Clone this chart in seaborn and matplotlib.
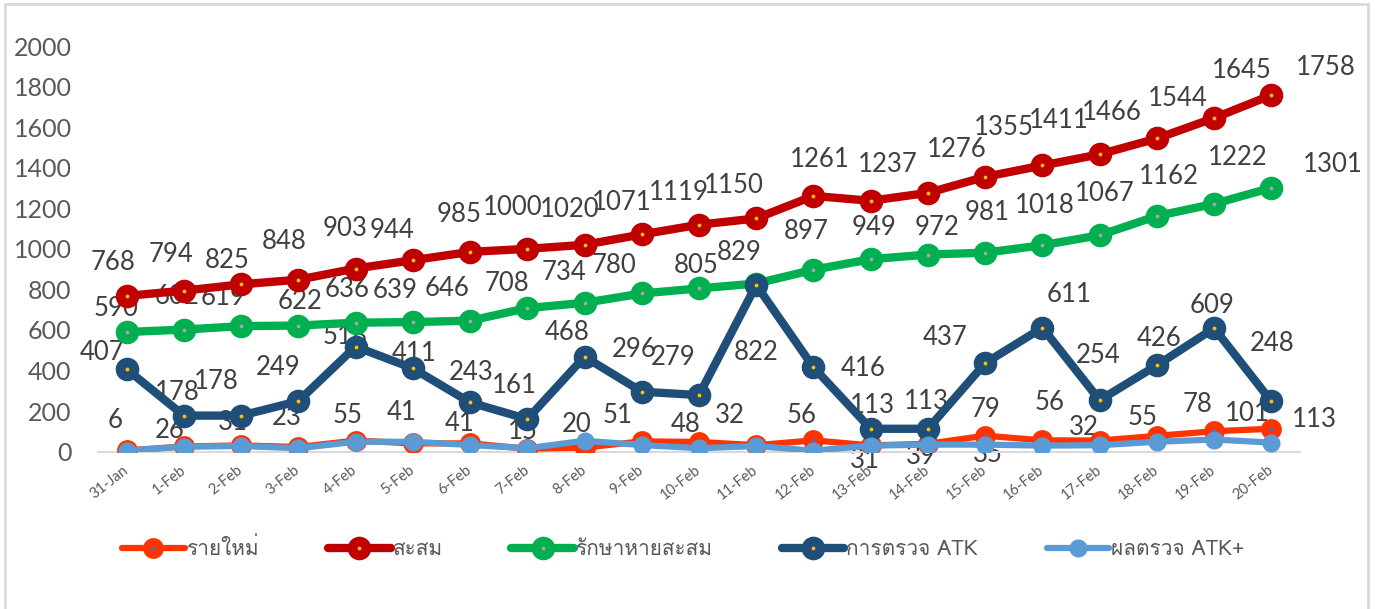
import pandas as pd
import matplotlib
matplotlib.use('Agg')
import matplotlib.pyplot as plt
import seaborn as sns
from matplotlib import font_manager as fm
from matplotlib.patches import Rectangle
from fontTools.ttLib import TTFont

# === 1. ข้อมูล ===
dates = ['31-Jan', '1-Feb', '2-Feb', '3-Feb', '4-Feb', '5-Feb', '6-Feb', '7-Feb',
         '8-Feb', '9-Feb', '10-Feb', '11-Feb', '12-Feb', '13-Feb', '14-Feb',
         '15-Feb', '16-Feb', '17-Feb', '18-Feb', '19-Feb', '20-Feb']
new_cases = [6, 26, 31, 23, 55, 41, 41, 15, 20, 51, 48, 32, 56, 31, 39, 79, 56, 55, 78, 101, 113]
cumulative = [768, 794, 825, 848, 903, 944, 985, 1000, 1020, 1071, 1119, 1150, 1261, 1237,
              1276, 1355, 1411, 1466, 1544, 1645, 1758]
recovered = [590, 602, 619, 622, 636, 639, 646, 708, 734, 780, 805, 829, 897, 949, 972,
             981, 1018, 1067, 1162, 1222, 1301]
atk_tests = [407, 178, 178, 249, 518, 411, 243, 161, 468, 296, 279, 822, 416, 113, 113,
             437, 611, 254, 426, 609, 248]
atk_positive = [5, 25, 28, 17, 49, 49, 33, 17, 54, 33, 17, 28, 5, 30, 35, 35, 30, 32, 49, 60, 45]

names = ['รายใหม่', 'สะสม', 'รักษาหายสะสม', 'การตรวจ ATK', 'ผลตรวจ ATK+']

df = pd.DataFrame({'date': dates, 'new': new_cases, 'cum': cumulative,
                   'rec': recovered, 'atk': atk_tests, 'atkp': atk_positive})

# === 2. ตำแหน่งป้ายข้อมูล (pixel offset จากจุด) ===
new_off = [(-11, 30), (-14, 16), (-8, 23), (-12, 30), (-8, 25), (-11, 31), (-10, 20), (-4, 17),
           (-8, 23), (-24, 26), (-13, 17), (-26, 30), (-12, 25), (-6, -15), (-7, -13), (0, 26),
           (7, 38), (43, 23), (41, 31), (33, 18), (43, 9)]
cum_off = [(-14, 33), (-13, 36), (-14, 24), (-14, 38), (-11, 40), (-21, 30), (-11, 37), (-15, 41),
           (-15, 35), (-20, 32), (-20, 32), (-22, 33), (6, 36), (17, 36), (29, 43), (19, 49),
           (16, 45), (12, 42), (21, 40), (28, 48), (54, 28)]
rec_off = [(-11, 24), (-7, 33), (-18, 29), (2, 24), (-8, 33), (-18, 32), (-23, 32), (-20, 25),
           (-21, 30), (-28, 28), (-3, 23), (-17, 31), (-7, 38), (3, 32), (9, 27), (2, 40),
           (2, 40), (5, 42), (12, 39), (24, 46), (61, 23)]
atk_off = [(-25, 17), (-7, 23), (-25, 34), (-20, 34), (-10, 10), (1, 15), (1, 30), (-13, 34),
           (-17, 24), (-8, 42), (-26, 38), (0, -68), (50, -1), (2, 23), (-2, 27), (-40, 26),
           (27, 33), (-2, 45), (2, 27), (-2, 23), (1, 58)]
atkp_off = {15: (3, -10), 17: (-16, 18)}  # ป้ายที่มองเห็นของ ATK+


# === 3. ฟอนต์ภาษาไทย ===
def find_thai_font():
    for f in fm.fontManager.ttflist:
        try:
            cmap = TTFont(f.fname, fontNumber=0, lazy=True).getBestCmap()
        except Exception:
            continue
        if cmap and 0x0E23 in cmap:
            return f.name
    return 'DejaVu Sans'


sns.set_style('white')
thai_font = find_thai_font()
plt.rcParams['font.family'] = ['Lato', thai_font, 'DejaVu Sans']

grey = '#595959'
label_grey = '#404040'

# === 4. วาดกราฟ ===
fig = plt.figure(figsize=(13.75, 6.09), dpi=100)
ax = fig.add_axes([98 / 1375, 157.3 / 609, 1202 / 1375, 405.7 / 609])

styles = [
    ('new', names[0], '#FF3300', 4.5, 9, 6, '#4472C4'),
    ('cum', names[1], '#C00000', 6, 10, 7, '#FFC000'),
    ('rec', names[2], '#00B050', 6, 10, 7, '#A5A5A5'),
    ('atk', names[3], '#1F4E79', 6, 10, 7, '#FFC000'),
    ('atkp', names[4], '#5B9BD5', 4.5, 12, 1, '#5B9BD5'),
]
for col, name, color, lw, ms, mew, dot in styles:
    sns.lineplot(data=df, x='date', y=col, ax=ax, color=color, linewidth=lw,
                 marker='o', markersize=ms, markeredgewidth=mew,
                 markeredgecolor=color, markerfacecolor=dot, label=name,
                 zorder=3, sort=False)


def add_labels(values, offsets):
    items = offsets.items() if isinstance(offsets, dict) else enumerate(offsets)
    for i, (dx, dy) in items:
        ax.annotate(str(values[i]), (i, values[i]), xytext=(dx, dy),
                    textcoords='offset pixels', ha='center', va='center',
                    fontsize=18.5, color=label_grey, zorder=2)


add_labels(new_cases, new_off)
add_labels(cumulative, cum_off)
add_labels(recovered, rec_off)
add_labels(atk_tests, atk_off)
add_labels(atk_positive, atkp_off)

# แกน
ax.set_xlim(-0.5, len(dates) - 0.5)
ax.set_ylim(0, 2000)
ax.set_yticks(range(0, 2001, 200))
ax.tick_params(axis='y', length=0, pad=19, labelsize=18, labelcolor=grey)
ax.set_xticks(range(len(dates)))
ax.set_xticklabels(dates, rotation=38, ha='right', va='center',
                   rotation_mode='anchor', fontsize=10.5, color=grey)
ax.set_xticks([i - 0.5 for i in range(len(dates) + 1)], minor=True)
ax.tick_params(axis='x', which='major', length=0, pad=12)
ax.tick_params(axis='x', which='minor', length=6, width=1.5, color='#D9D9D9')
ax.set(xlabel='', ylabel='')
ax.grid(False)
for side in ['left', 'right', 'top']:
    ax.spines[side].set_visible(False)
ax.spines['bottom'].set_color('#D9D9D9')
ax.spines['bottom'].set_linewidth(1.5)

# คำอธิบาย
leg = ax.legend(loc='center', bbox_to_anchor=(0.497, 1 - 548 / 609),
                bbox_transform=fig.transFigure, ncol=5, frameon=False,
                handlelength=3.0, handletextpad=0.1, columnspacing=3.3,
                prop={'family': [thai_font, 'Lato'], 'size': 15})
for t in leg.get_texts():
    t.set_color(grey)

# กรอบแผนภูมิ
fig.patches.append(Rectangle((5 / 1375, -0.05), 1363 / 1375, 1.05 - 4 / 609,
                             transform=fig.transFigure, fill=False,
                             edgecolor='#D9D9D9', linewidth=2))

# === 5. บันทึก ===
fig.savefig('out.png', dpi=100)
